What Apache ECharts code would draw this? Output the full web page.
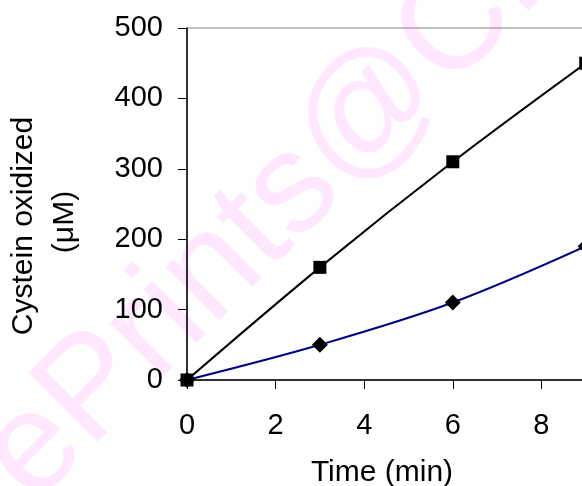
<!DOCTYPE html>
<html>
<head>
<meta charset="utf-8">
<title>Cystein oxidation over time</title>
<script src="https://cdn.jsdelivr.net/npm/echarts@6/dist/echarts.min.js"></script>
<style>
  html, body { margin: 0; padding: 0; background: #fff; }
  #chart { width: 582px; height: 486px; }
</style>
</head>
<body>
<div id="chart"></div>
<script>
// Sampling times (min)
const times = [0, 3, 6, 9];
// Cystein oxidized (µM), square-marker series
const squareSeries = [0, 160, 310, 450];
// Cystein oxidized (µM), diamond-marker series
const diamondSeries = [0, 50, 110, 190];
// Axis tick values
const xTicks = [0, 2, 4, 6, 8, 10];
const yTicks = [0, 100, 200, 300, 400, 500];

const FONT = '"Liberation Sans", Arial, sans-serif';

const chart = echarts.init(document.getElementById('chart'), null, { renderer: 'canvas' });

const pairs = (xs, ys) => xs.map((x, i) => [x, ys[i]]);

chart.setOption({
  animation: false,
  backgroundColor: '#ffffff',
  grid: {
    left: 187,
    top: 28,
    bottom: 106,
    width: 443,
    containLabel: false,
    outerBoundsMode: 'none',
    show: true,
    borderColor: '#808080',
    borderWidth: 1,
    backgroundColor: 'transparent'
  },
  xAxis: {
    type: 'value',
    min: xTicks[0],
    max: xTicks[xTicks.length - 1],
    interval: xTicks[1] - xTicks[0],
    axisLine: { show: true, onZero: false, lineStyle: { color: '#000', width: 1.5 } },
    axisTick: { show: true, inside: false, length: 9, lineStyle: { color: '#000', width: 1 } },
    axisLabel: { color: '#000', fontFamily: FONT, fontSize: 29, margin: 31 },
    splitLine: { show: false }
  },
  yAxis: {
    type: 'value',
    min: yTicks[0],
    max: yTicks[yTicks.length - 1],
    interval: yTicks[1] - yTicks[0],
    axisLine: { show: true, onZero: false, lineStyle: { color: '#000', width: 1.5 } },
    axisTick: { show: true, inside: false, length: 9, lineStyle: { color: '#000', width: 1 } },
    axisLabel: { color: '#000', fontFamily: FONT, fontSize: 29, margin: 24 },
    splitLine: { show: false }
  },
  graphic: [
    {
      type: 'text',
      z: -10,
      silent: true,
      x: 280,
      y: 204,
      rotation: Math.PI / 4,
      style: {
        text: 'ePrints@CF',
        font: '142px "Liberation Sans", Arial, sans-serif',
        fill: '#ffe8ff',
        align: 'center',
        verticalAlign: 'middle'
      }
    },
    {
      type: 'text',
      x: 24,
      y: 226,
      rotation: Math.PI / 2,
      style: {
        text: 'Cystein oxidized',
        font: '30px "Liberation Sans", Arial, sans-serif',
        fill: '#000',
        align: 'center',
        verticalAlign: 'middle'
      }
    },
    {
      type: 'text',
      x: 65,
      y: 222,
      rotation: Math.PI / 2,
      style: {
        text: '(\u03bcM)',
        font: '30px "Liberation Sans", Arial, sans-serif',
        fill: '#000',
        align: 'center',
        verticalAlign: 'middle'
      }
    },
    {
      type: 'text',
      x: 382,
      y: 473,
      style: {
        text: 'Time (min)',
        font: '30px "Liberation Sans", Arial, sans-serif',
        fill: '#000',
        align: 'center',
        verticalAlign: 'middle'
      }
    }
  ],
  series: [
    {
      type: 'line',
      data: pairs(times, diamondSeries),
      smooth: 0.35,
      clip: false,
      symbol: 'diamond',
      symbolSize: [16, 16],
      itemStyle: { color: '#000' },
      lineStyle: { color: '#000080', width: 2 },
      z: 3
    },
    {
      type: 'line',
      data: pairs(times, squareSeries),
      smooth: 0.35,
      clip: false,
      symbol: 'rect',
      symbolSize: 13,
      itemStyle: { color: '#000' },
      lineStyle: { color: '#000', width: 2 },
      z: 4
    }
  ]
});
</script>
</body>
</html>
